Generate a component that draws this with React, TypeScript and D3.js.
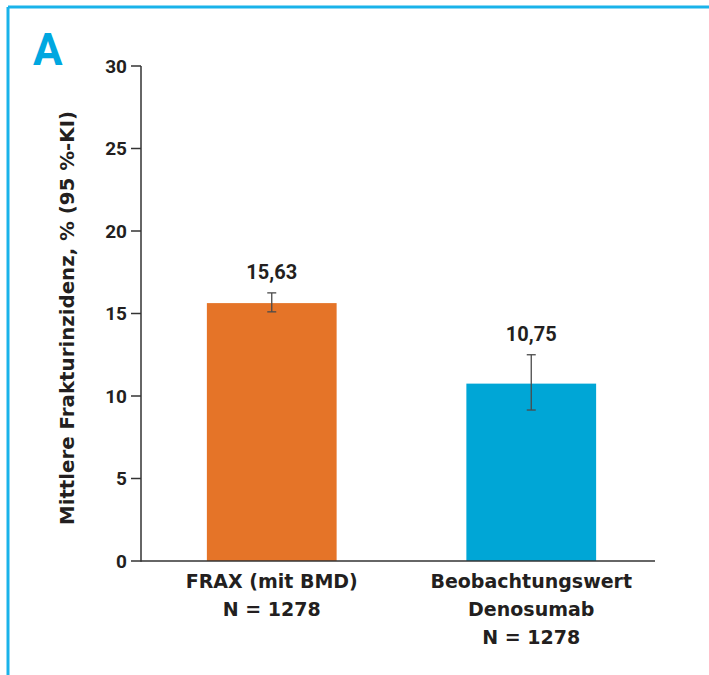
import React from 'react'
import * as d3 from 'd3'

// data
const categories = ['FRAX (mit BMD)|N = 1278', 'Beobachtungswert|Denosumab|N = 1278']
const means = [15.63, 10.75]
const ciLow = [15.1, 9.15]
const ciHigh = [16.25, 12.5]
const meanLabels = ['15,63', '10,75']
const barColors = ['#e57428', '#00a6d6']
const yTicks = [0, 5, 10, 15, 20, 25, 30]
const yTitle = 'Mittlere Frakturinzidenz, % (95 %-KI)'

const W = 709
const H = 675
const NUM_FONT = 'Roboto, "DejaVu Sans", sans-serif'
const WORD_FONT = '"DejaVu Sans", Roboto, sans-serif'
const INK = '#231f20'

export default function App() {
  let y = d3.scaleLinear().domain([0, 30]).range([561, 66])
  let x = d3.scaleBand().domain(categories).range([142, 661]).paddingInner(0.5).paddingOuter(0.25)

  return (
    <svg width={W} height={H} style={{ position: 'absolute', left: 0, top: 0, background: '#fff' }}>
      {/* frame */}
      <line x1={8} y1={7} x2={W} y2={7} stroke="#1ab3ea" strokeWidth={3} />
      <line x1={8} y1={7} x2={8} y2={H} stroke="#1ab3ea" strokeWidth={3} />
      <text x={33} y={65} fill="#00a7e0" fontFamily={NUM_FONT} fontWeight={700} fontSize={44}>A</text>

      {/* bars */}
      {means.map((m, i) => (
        <rect key={i} x={x(categories[i])} y={y(m)} width={x.bandwidth()} height={y(0) - y(m)} fill={barColors[i]} />
      ))}

      {/* error bars */}
      {means.map((m, i) => {
        let cx = x(categories[i]) + x.bandwidth() / 2
        return (
          <g key={i} stroke="#4a4a4a" strokeWidth={1.3}>
            <line x1={cx} x2={cx} y1={y(ciLow[i])} y2={y(ciHigh[i])} />
            <line x1={cx - 4.5} x2={cx + 4.5} y1={y(ciLow[i])} y2={y(ciLow[i])} />
            <line x1={cx - 4.5} x2={cx + 4.5} y1={y(ciHigh[i])} y2={y(ciHigh[i])} />
          </g>
        )
      })}

      {/* value labels */}
      {means.map((m, i) => (
        <text key={i} x={x(categories[i]) + x.bandwidth() / 2} y={y(ciHigh[i]) - 14} textAnchor="middle"
          fill={INK} fontFamily={NUM_FONT} fontWeight={700} fontSize={20}>{meanLabels[i]}</text>
      ))}

      {/* y axis */}
      <line x1={141} x2={141} y1={y(30)} y2={y(0) + 0.75} stroke="#333" strokeWidth={1.5} />
      {yTicks.map(t => (
        <g key={t}>
          <line x1={131} x2={141} y1={y(t)} y2={y(t)} stroke="#333" strokeWidth={1.5} />
          <text x={127} y={y(t)} dy="0.36em" textAnchor="end" fill={INK} fontFamily={NUM_FONT} fontWeight={700} fontSize={19}>{t}</text>
        </g>
      ))}
      <text transform={`translate(74,318) rotate(-90)`} textAnchor="middle"
        fill={INK} fontFamily={WORD_FONT} fontWeight={700} fontSize={19.8}>{yTitle}</text>

      {/* x axis */}
      <line x1={141} x2={655} y1={y(0)} y2={y(0)} stroke="#333" strokeWidth={1.5} />
      {categories.map((c, i) => (
        <text key={c} x={x(c) + x.bandwidth() / 2} textAnchor="middle" fill={INK} fontFamily={WORD_FONT} fontWeight={700} fontSize={19}>
          {c.split('|').map((line, j) => (
            <tspan key={j} x={x(c) + x.bandwidth() / 2} y={588 + j * 28}>{line}</tspan>
          ))}
        </text>
      ))}
    </svg>
  )
}
